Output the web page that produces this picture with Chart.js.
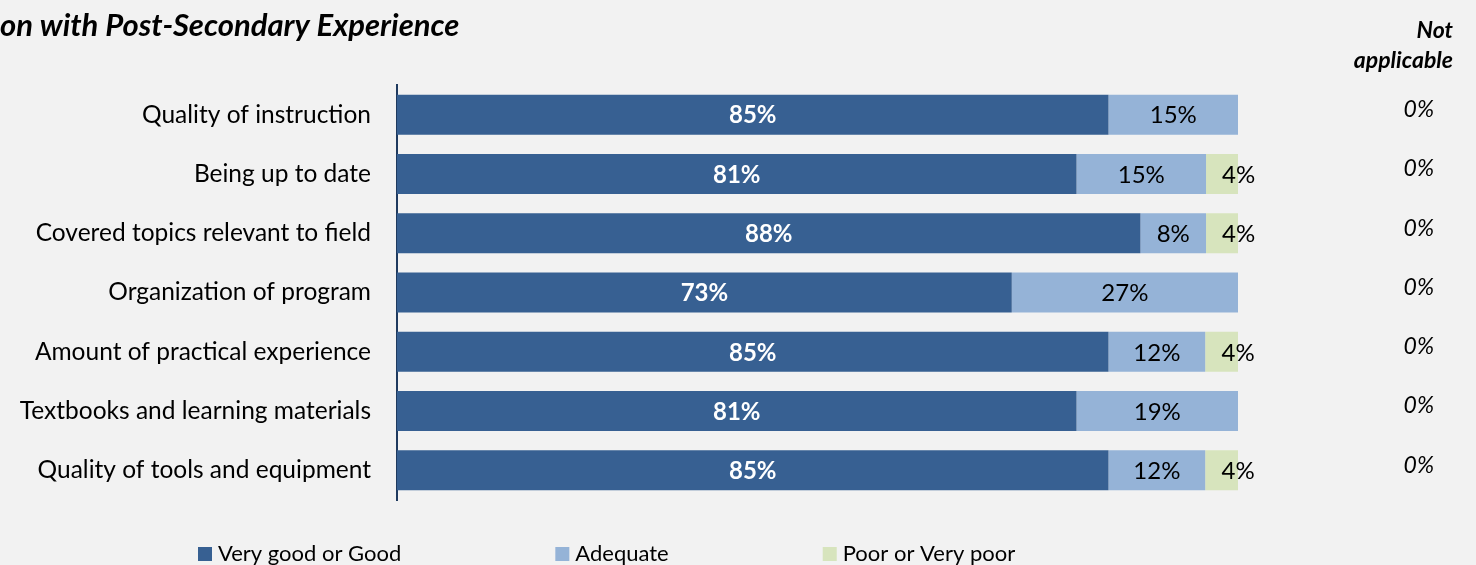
<!DOCTYPE html>
<html>
<head>
<meta charset="utf-8">
<script src="https://cdn.jsdelivr.net/npm/chart.js@4/dist/chart.umd.min.js"></script>
<style>
  html, body { margin:0; padding:0; background:#f2f2f2; }
  #wrap { width:1476px; height:565px; position:relative; }
  canvas { display:block; }
</style>
</head>
<body>
<div id="wrap"><canvas id="chart" width="1476" height="565"></canvas></div>
<script>
// data
const categories = [
  "Quality of instruction",
  "Being up to date",
  "Covered topics relevant to field",
  "Organization of program",
  "Amount of practical experience",
  "Textbooks and learning materials",
  "Quality of tools and equipment"
];
const veryGood = [84.6, 80.8, 88.4, 73.1, 84.6, 80.8, 84.6];
const adequate = [15.4, 15.4, 7.8, 26.9, 11.5, 19.2, 11.5];
const poor = [0, 3.8, 3.8, 0, 3.9, 0, 3.9];
const notApplicable = [0, 0, 0, 0, 0, 0, 0];
const seriesNames = ["Very good or Good", "Adequate", "Poor or Very poor"];
const seriesColors = ["#376092", "#95b3d7", "#d7e4bd"];

const FONT = "Lato, 'Open Sans', sans-serif";

// labels inside bars
const barLabels = {
  id: "barLabels",
  afterDatasetsDraw(chart) {
    const ctx = chart.ctx;
    ctx.save();
    ctx.textBaseline = "middle";
    chart.data.datasets.forEach((ds, di) => {
      const meta = chart.getDatasetMeta(di);
      meta.data.forEach((bar, i) => {
        const v = ds.data[i];
        if (!v) return;
        const txt = Math.round(v) + "%";
        ctx.font = (di === 0 ? "bold " : "") + "24px " + FONT;
        ctx.fillStyle = di === 0 ? "#ffffff" : "#000000";
        const left = Math.min(bar.x, bar.base), right = Math.max(bar.x, bar.base);
        const mid = (left + right) / 2;
        const w = ctx.measureText(txt).width;
        ctx.textAlign = w + 6 > right - left ? "left" : "center";
        ctx.fillText(txt, mid, bar.y + 1);
      });
    });
    ctx.restore();
  }
};

// title, not applicable column, legend
const extras = {
  id: "extras",
  afterDraw(chart) {
    const ctx = chart.ctx;
    ctx.save();
    ctx.fillStyle = "#000";
    ctx.textBaseline = "middle";
    ctx.textAlign = "left";
    ctx.font = "italic bold 31px " + FONT;
    ctx.fillText("on with Post-Secondary Experience", 0, 26);

    ctx.textAlign = "right";
    ctx.font = "italic bold 23px " + FONT;
    ctx.fillText("Not", 1453, 31);
    ctx.fillText("applicable", 1453, 61);

    ctx.font = "italic 23px " + FONT;
    const meta = chart.getDatasetMeta(0);
    notApplicable.forEach((v, i) => {
      ctx.fillText(v + "%", 1434, meta.data[i].y - 5);
    });

    // legend
    ctx.textAlign = "left";
    ctx.font = "22px " + FONT;
    let x = 198;
    seriesNames.forEach((name, i) => {
      ctx.fillStyle = seriesColors[i];
      ctx.fillRect(x, 547, 14, 14);
      ctx.fillStyle = "#000";
      ctx.fillText(name, x + 20, 554);
      x += 20 + ctx.measureText(name).width + 154;
    });
    ctx.restore();
  }
};

new Chart(document.getElementById("chart").getContext("2d"), {
  type: "bar",
  data: {
    labels: categories,
    datasets: [
      { label: seriesNames[0], data: veryGood, backgroundColor: seriesColors[0] },
      { label: seriesNames[1], data: adequate, backgroundColor: seriesColors[1] },
      { label: seriesNames[2], data: poor, backgroundColor: seriesColors[2] }
    ]
  },
  options: {
    indexAxis: "y",
    responsive: false,
    animation: false,
    devicePixelRatio: 1,
    datasets: { bar: { barPercentage: 0.675, categoryPercentage: 1 } },
    layout: { padding: { top: 85, bottom: 65, left: 0, right: 238 } },
    plugins: { legend: { display: false }, tooltip: { enabled: false } },
    scales: {
      x: { stacked: true, min: 0, max: 100, display: false },
      y: {
        stacked: true,
        grid: { display: false, drawTicks: false },
        border: { display: true, color: "#1f3a5f", width: 2 },
        ticks: { color: "#000", padding: 26, font: { family: FONT, size: 24.5 } },
        afterFit(scale) { scale.width = 397; }
      }
    }
  },
  plugins: [barLabels, extras]
});
</script>
</body>
</html>
